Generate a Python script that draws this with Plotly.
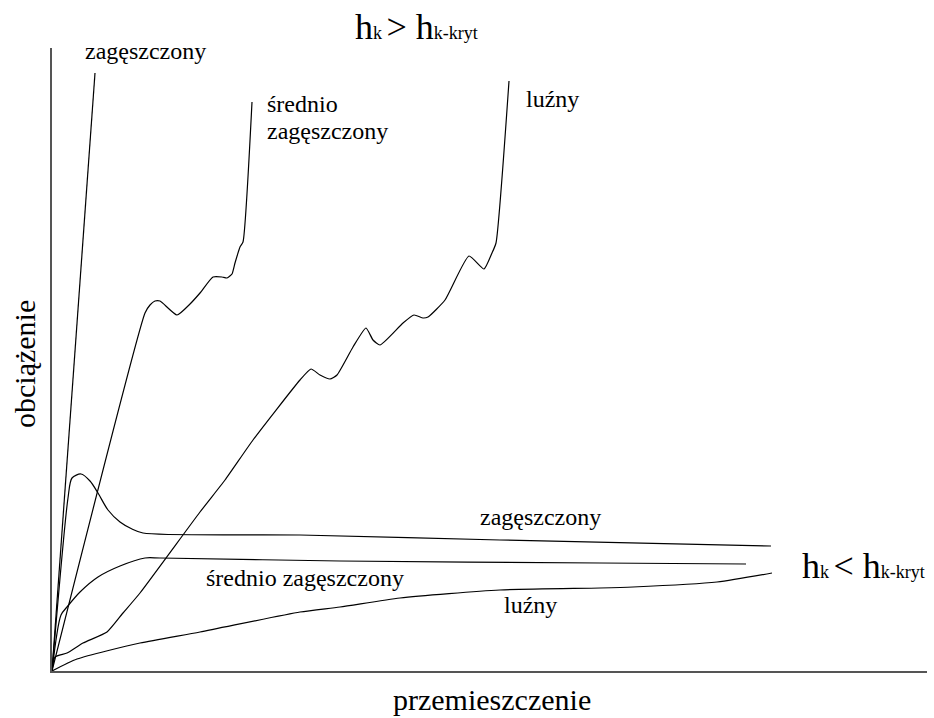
import plotly.graph_objects as go

# Data (displacement, load) in arbitrary units
zag_hi_x = [0, 43]
zag_hi_y = [0, 598]

sred_hi_x = [0, 93, 98, 103, 108, 125, 138, 148, 161, 170, 175, 180, 183, 188, 191, 200]
sred_hi_y = [0, 358, 366, 370, 370, 356, 367, 378, 394, 394, 393, 397, 408, 424, 429, 569]

luz_hi_x = [0, 3, 15, 31, 55, 71, 88, 148, 173, 201, 248, 259, 268, 278, 285, 301, 314, 321,
            328, 351, 362, 371, 376, 393, 417, 432, 440, 444, 457]
luz_hi_y = [0, 14, 18, 28, 39, 58, 78, 159, 191, 231, 291, 302, 296, 292, 296, 324, 343, 331,
            326, 348, 356, 353, 354, 371, 415, 402, 418, 428, 590]

zag_lo_x = [0, 16, 20, 29, 38, 46, 56, 68, 80, 91, 248, 448, 719]
zag_lo_y = [0, 173, 193, 197, 190, 178, 161, 149, 142, 138, 136, 131, 125]

sred_lo_x = [0, 9, 15, 28, 46, 68, 93, 108, 288, 548, 694]
sred_lo_y = [0, 56, 64, 79, 94, 105, 113, 113, 110, 108, 107]

luz_lo_x = [0, 25, 88, 148, 248, 288, 348, 448, 548, 581, 665, 720]
luz_lo_y = [0, 12, 28, 39, 59, 64, 73, 81, 83, 84, 89, 98]

W, H = 934, 718
L, R, T, B = 52, 7, 48, 47
PW, PH = W - L - R, H - T - B

FONT = "Liberation Serif"

fig = go.Figure()


def add(xs, ys, smooth):
    fig.add_trace(go.Scatter(
        x=xs, y=ys, mode="lines",
        line=dict(color="black", width=1.2,
                  shape="spline" if smooth else "linear",
                  smoothing=smooth if smooth else None),
        hoverinfo="skip", showlegend=False))


add(zag_hi_x, zag_hi_y, 0)
add(sred_hi_x, sred_hi_y, 0.5)
add(luz_hi_x, luz_hi_y, 0.5)
add(zag_lo_x, zag_lo_y, 0.8)
add(sred_lo_x, sred_lo_y, 0.8)
add(luz_lo_x, luz_lo_y, 0.6)


def px(x):
    return (x - L) / PW


def py(y):
    return (H - B - y) / PH


def label(text, x, y, size=24, xanchor="center", yanchor="middle", angle=0):
    fig.add_annotation(text=text, x=px(x), y=py(y), xref="paper", yref="paper",
                       xanchor=xanchor, yanchor=yanchor, showarrow=False,
                       textangle=angle,
                       font=dict(family=FONT, size=size, color="black"))


sm = "<span style='font-size:18px'>{}</span>"
label("h" + sm.format("k ") + "&gt; h" + sm.format("k-kryt"), 353, 27, size=36, xanchor="left")
label("h" + sm.format("k ") + "&lt; h" + sm.format("k-kryt"), 800, 566, size=36, xanchor="left")

label("zagęszczony", 145, 51)
label("średnio", 265, 104, xanchor="left")
label("zagęszczony", 265, 131, xanchor="left")
label("luźny", 524, 99, xanchor="left")

label("zagęszczony", 540, 517)
label("średnio zagęszczony", 305, 578)
label("luźny", 530, 605)

label("przemieszczenie", 492, 699, size=30)
label("obciążenie", 24, 364, size=30, angle=-90)

fig.update_layout(
    width=W, height=H,
    font=dict(family=FONT, color="black"),
    margin=dict(l=L, r=R, t=T, b=B),
    paper_bgcolor="white", plot_bgcolor="white",
    xaxis=dict(range=[0, PW], showgrid=False, zeroline=False, showticklabels=False,
               ticks="", showline=True, linecolor="#555", linewidth=1.5, fixedrange=True),
    yaxis=dict(range=[0, PH], showgrid=False, zeroline=False, showticklabels=False,
               ticks="", showline=True, linecolor="#555", linewidth=1.5, fixedrange=True),
)

fig.write_html(
    "out.html",
    config={"displayModeBar": False},
    post_script="document.body.style.margin='0';document.body.style.overflow='hidden';",
)
